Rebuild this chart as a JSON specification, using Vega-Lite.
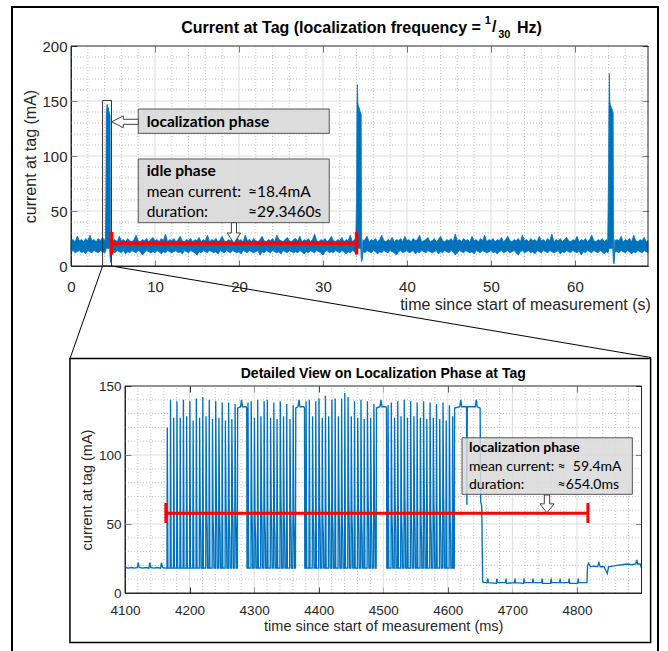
{
"$schema":"https://vega.github.io/schema/vega-lite/v6.json",
"width":646,"height":650,
"autosize":{"type":"none"},
"padding":{"left":12,"top":7,"right":10,"bottom":0},
"background":"white",
"config":{"view":{"stroke":"#000000","strokeWidth":2},"font":"Liberation Sans",
"axis":{"labelFont":"Liberation Sans","titleFont":"Liberation Sans","titleFontWeight":"normal","labelColor":"#262626","titleColor":"#262626","tickColor":"#262626","domainColor":"#262626","grid":false,"labelFlush":false,"labelOverlap":false}},
"datasets":{
"top":[
{"t":0,"lo":13,"hi":23},{"t":0.25,"lo":14,"hi":24},{"t":0.5,"lo":12,"hi":22},{"t":0.75,"lo":13,"hi":27},{"t":1,"lo":14,"hi":23},{"t":1.25,"lo":12,"hi":24},{"t":1.5,"lo":13,"hi":22},{"t":1.75,"lo":11,"hi":25},{"t":2,"lo":14,"hi":23},{"t":2.25,"lo":13,"hi":28},{"t":2.5,"lo":12,"hi":23},{"t":2.75,"lo":14,"hi":24},{"t":3,"lo":13,"hi":22},{"t":3.25,"lo":12,"hi":25},{"t":3.5,"lo":14,"hi":23},{"t":3.75,"lo":13,"hi":26},{"t":4,"lo":12,"hi":23},
{"t":4.05,"lo":12,"hi":24},{"t":4.1,"lo":13,"hi":23},{"t":4.15,"lo":14,"hi":60},{"t":4.2,"lo":16,"hi":140},{"t":4.25,"lo":16,"hi":143},{"t":4.3,"lo":16,"hi":147},{"t":4.35,"lo":16,"hi":145},{"t":4.4,"lo":16,"hi":142},{"t":4.45,"lo":16,"hi":144},{"t":4.5,"lo":16,"hi":141},{"t":4.55,"lo":16,"hi":140},{"t":4.6,"lo":16,"hi":138},{"t":4.65,"lo":8,"hi":137},{"t":4.7,"lo":5,"hi":12},{"t":4.75,"lo":3,"hi":11},{"t":4.8,"lo":6,"hi":12},{"t":4.85,"lo":12,"hi":24},{"t":4.9,"lo":13,"hi":23},
{"t":5,"lo":13,"hi":23},{"t":5.25,"lo":12,"hi":24},{"t":5.5,"lo":14,"hi":22},{"t":5.75,"lo":13,"hi":27},{"t":6,"lo":12,"hi":23},{"t":6.25,"lo":14,"hi":24},{"t":6.5,"lo":11,"hi":22},{"t":6.75,"lo":13,"hi":25},{"t":7,"lo":12,"hi":23},{"t":7.25,"lo":14,"hi":22},{"t":7.5,"lo":13,"hi":24},{"t":7.75,"lo":12,"hi":28},{"t":8,"lo":14,"hi":23},{"t":8.25,"lo":13,"hi":22},{"t":8.5,"lo":10,"hi":24},{"t":8.75,"lo":12,"hi":23},{"t":9,"lo":14,"hi":25},{"t":9.25,"lo":13,"hi":22},{"t":9.5,"lo":12,"hi":24},{"t":9.75,"lo":13,"hi":26},
{"t":10,"lo":12,"hi":23},{"t":10.25,"lo":14,"hi":24},{"t":10.5,"lo":13,"hi":22},{"t":10.75,"lo":11,"hi":25},{"t":11,"lo":13,"hi":23},{"t":11.25,"lo":12,"hi":29},{"t":11.5,"lo":14,"hi":22},{"t":11.75,"lo":13,"hi":24},{"t":12,"lo":12,"hi":23},{"t":12.25,"lo":13,"hi":25},{"t":12.5,"lo":14,"hi":22},{"t":12.75,"lo":12,"hi":24},{"t":13,"lo":13,"hi":27},{"t":13.25,"lo":11,"hi":23},{"t":13.5,"lo":14,"hi":22},{"t":13.75,"lo":13,"hi":24},{"t":14,"lo":12,"hi":23},{"t":14.25,"lo":14,"hi":25},{"t":14.5,"lo":13,"hi":22},{"t":14.75,"lo":12,"hi":24},
{"t":15,"lo":10,"hi":23},{"t":15.25,"lo":13,"hi":26},{"t":15.5,"lo":12,"hi":22},{"t":15.75,"lo":14,"hi":24},{"t":16,"lo":13,"hi":23},{"t":16.25,"lo":12,"hi":28},{"t":16.5,"lo":14,"hi":22},{"t":16.75,"lo":13,"hi":24},{"t":17,"lo":12,"hi":23},{"t":17.25,"lo":13,"hi":25},{"t":17.5,"lo":11,"hi":22},{"t":17.75,"lo":14,"hi":24},{"t":18,"lo":13,"hi":27},{"t":18.25,"lo":12,"hi":23},{"t":18.5,"lo":14,"hi":22},{"t":18.75,"lo":13,"hi":24},{"t":19,"lo":12,"hi":23},{"t":19.25,"lo":14,"hi":25},{"t":19.5,"lo":13,"hi":22},{"t":19.75,"lo":12,"hi":26},
{"t":20,"lo":13,"hi":23},{"t":20.25,"lo":11,"hi":24},{"t":20.5,"lo":14,"hi":22},{"t":20.75,"lo":13,"hi":28},{"t":21,"lo":12,"hi":23},{"t":21.25,"lo":14,"hi":24},{"t":21.5,"lo":13,"hi":22},{"t":21.75,"lo":12,"hi":25},{"t":22,"lo":13,"hi":23},{"t":22.25,"lo":14,"hi":22},{"t":22.5,"lo":10,"hi":24},{"t":22.75,"lo":13,"hi":27},{"t":23,"lo":12,"hi":23},{"t":23.25,"lo":14,"hi":22},{"t":23.5,"lo":13,"hi":24},{"t":23.75,"lo":12,"hi":23},{"t":24,"lo":14,"hi":25},{"t":24.25,"lo":13,"hi":22},{"t":24.5,"lo":12,"hi":28},{"t":24.75,"lo":13,"hi":24},
{"t":25,"lo":11,"hi":23},{"t":25.25,"lo":14,"hi":22},{"t":25.5,"lo":13,"hi":24},{"t":25.75,"lo":12,"hi":26},{"t":26,"lo":14,"hi":23},{"t":26.25,"lo":13,"hi":22},{"t":26.5,"lo":12,"hi":24},{"t":26.75,"lo":13,"hi":25},{"t":27,"lo":12,"hi":23},{"t":27.25,"lo":14,"hi":27},{"t":27.5,"lo":13,"hi":22},{"t":27.75,"lo":11,"hi":24},{"t":28,"lo":13,"hi":23},{"t":28.25,"lo":12,"hi":25},{"t":28.5,"lo":14,"hi":22},{"t":28.75,"lo":13,"hi":24},{"t":29,"lo":12,"hi":29},{"t":29.25,"lo":14,"hi":23},{"t":29.5,"lo":13,"hi":22},{"t":29.75,"lo":12,"hi":24},
{"t":30,"lo":10,"hi":23},{"t":30.25,"lo":13,"hi":25},{"t":30.5,"lo":14,"hi":22},{"t":30.75,"lo":12,"hi":24},{"t":31,"lo":13,"hi":27},{"t":31.25,"lo":12,"hi":23},{"t":31.5,"lo":14,"hi":22},{"t":31.75,"lo":13,"hi":24},{"t":32,"lo":12,"hi":23},{"t":32.25,"lo":14,"hi":26},{"t":32.5,"lo":13,"hi":22},{"t":32.75,"lo":11,"hi":24},{"t":33,"lo":13,"hi":23},{"t":33.25,"lo":12,"hi":28},{"t":33.5,"lo":14,"hi":22},{"t":33.75,"lo":13,"hi":24},
{"t":33.9,"lo":12,"hi":23},{"t":34,"lo":13,"hi":60},{"t":34.05,"lo":16,"hi":150},{"t":34.1,"lo":16,"hi":165},{"t":34.15,"lo":16,"hi":148},{"t":34.2,"lo":16,"hi":146},{"t":34.25,"lo":16,"hi":145},{"t":34.3,"lo":16,"hi":144},{"t":34.35,"lo":16,"hi":143},{"t":34.4,"lo":16,"hi":141},{"t":34.45,"lo":16,"hi":140},{"t":34.5,"lo":16,"hi":139},{"t":34.55,"lo":8,"hi":138},{"t":34.6,"lo":4,"hi":12},{"t":34.65,"lo":5,"hi":11},{"t":34.7,"lo":7,"hi":12},{"t":34.75,"lo":12,"hi":24},{"t":34.85,"lo":13,"hi":23},
{"t":35,"lo":12,"hi":24},{"t":35.25,"lo":14,"hi":27},{"t":35.5,"lo":13,"hi":22},{"t":35.75,"lo":12,"hi":24},{"t":36,"lo":14,"hi":23},{"t":36.25,"lo":13,"hi":25},{"t":36.5,"lo":11,"hi":22},{"t":36.75,"lo":13,"hi":24},{"t":37,"lo":12,"hi":28},{"t":37.25,"lo":14,"hi":23},{"t":37.5,"lo":13,"hi":22},{"t":37.75,"lo":12,"hi":24},{"t":38,"lo":14,"hi":23},{"t":38.25,"lo":13,"hi":26},{"t":38.5,"lo":12,"hi":22},{"t":38.75,"lo":10,"hi":24},{"t":39,"lo":13,"hi":23},{"t":39.25,"lo":14,"hi":25},{"t":39.5,"lo":12,"hi":22},{"t":39.75,"lo":13,"hi":27},
{"t":40,"lo":14,"hi":23},{"t":40.25,"lo":12,"hi":24},{"t":40.5,"lo":13,"hi":22},{"t":40.75,"lo":14,"hi":25},{"t":41,"lo":11,"hi":23},{"t":41.25,"lo":13,"hi":24},{"t":41.5,"lo":12,"hi":28},{"t":41.75,"lo":14,"hi":22},{"t":42,"lo":13,"hi":23},{"t":42.25,"lo":12,"hi":24},{"t":42.5,"lo":14,"hi":26},{"t":42.75,"lo":13,"hi":22},{"t":43,"lo":12,"hi":23},{"t":43.25,"lo":13,"hi":25},{"t":43.5,"lo":14,"hi":22},{"t":43.75,"lo":11,"hi":24},{"t":44,"lo":13,"hi":27},{"t":44.25,"lo":12,"hi":23},{"t":44.5,"lo":14,"hi":22},{"t":44.75,"lo":13,"hi":24},
{"t":45,"lo":12,"hi":23},{"t":45.25,"lo":14,"hi":25},{"t":45.5,"lo":13,"hi":22},{"t":45.75,"lo":10,"hi":29},{"t":46,"lo":12,"hi":23},{"t":46.25,"lo":14,"hi":24},{"t":46.5,"lo":13,"hi":22},{"t":46.75,"lo":12,"hi":25},{"t":47,"lo":14,"hi":23},{"t":47.25,"lo":13,"hi":24},{"t":47.5,"lo":12,"hi":22},{"t":47.75,"lo":13,"hi":27},{"t":48,"lo":11,"hi":23},{"t":48.25,"lo":14,"hi":24},{"t":48.5,"lo":13,"hi":22},{"t":48.75,"lo":12,"hi":25},{"t":49,"lo":14,"hi":23},{"t":49.25,"lo":13,"hi":28},{"t":49.5,"lo":12,"hi":22},{"t":49.75,"lo":13,"hi":24},
{"t":50,"lo":14,"hi":23},{"t":50.25,"lo":12,"hi":25},{"t":50.5,"lo":13,"hi":22},{"t":50.75,"lo":11,"hi":24},{"t":51,"lo":13,"hi":23},{"t":51.25,"lo":14,"hi":26},{"t":51.5,"lo":12,"hi":22},{"t":51.75,"lo":13,"hi":24},{"t":52,"lo":14,"hi":27},{"t":52.25,"lo":12,"hi":23},{"t":52.5,"lo":13,"hi":22},{"t":52.75,"lo":14,"hi":24},{"t":53,"lo":12,"hi":23},{"t":53.25,"lo":10,"hi":25},{"t":53.5,"lo":13,"hi":22},{"t":53.75,"lo":14,"hi":28},{"t":54,"lo":12,"hi":23},{"t":54.25,"lo":13,"hi":24},{"t":54.5,"lo":14,"hi":22},{"t":54.75,"lo":12,"hi":25},
{"t":55,"lo":13,"hi":23},{"t":55.25,"lo":11,"hi":24},{"t":55.5,"lo":14,"hi":22},{"t":55.75,"lo":13,"hi":27},{"t":56,"lo":12,"hi":23},{"t":56.25,"lo":14,"hi":24},{"t":56.5,"lo":13,"hi":22},{"t":56.75,"lo":12,"hi":25},{"t":57,"lo":14,"hi":23},{"t":57.25,"lo":13,"hi":29},{"t":57.5,"lo":12,"hi":22},{"t":57.75,"lo":13,"hi":24},{"t":58,"lo":14,"hi":23},{"t":58.25,"lo":11,"hi":25},{"t":58.5,"lo":13,"hi":22},{"t":58.75,"lo":12,"hi":24},{"t":59,"lo":14,"hi":26},{"t":59.25,"lo":13,"hi":23},{"t":59.5,"lo":12,"hi":22},{"t":59.75,"lo":14,"hi":24},
{"t":60,"lo":13,"hi":23},{"t":60.25,"lo":12,"hi":27},{"t":60.5,"lo":14,"hi":22},{"t":60.75,"lo":10,"hi":24},{"t":61,"lo":13,"hi":23},{"t":61.25,"lo":12,"hi":25},{"t":61.5,"lo":14,"hi":22},{"t":61.75,"lo":13,"hi":24},{"t":62,"lo":12,"hi":28},{"t":62.25,"lo":14,"hi":23},{"t":62.5,"lo":13,"hi":22},{"t":62.75,"lo":12,"hi":24},{"t":63,"lo":14,"hi":23},{"t":63.25,"lo":13,"hi":25},{"t":63.5,"lo":11,"hi":22},{"t":63.75,"lo":13,"hi":24},
{"t":63.9,"lo":12,"hi":23},{"t":64,"lo":13,"hi":80},{"t":64.05,"lo":16,"hi":146},{"t":64.1,"lo":16,"hi":175},{"t":64.15,"lo":16,"hi":150},{"t":64.2,"lo":16,"hi":147},{"t":64.25,"lo":16,"hi":146},{"t":64.3,"lo":16,"hi":145},{"t":64.35,"lo":16,"hi":144},{"t":64.4,"lo":16,"hi":143},{"t":64.45,"lo":16,"hi":142},{"t":64.5,"lo":16,"hi":141},{"t":64.55,"lo":8,"hi":139},{"t":64.6,"lo":3,"hi":12},{"t":64.65,"lo":2,"hi":11},{"t":64.7,"lo":5,"hi":12},{"t":64.75,"lo":12,"hi":24},{"t":64.85,"lo":13,"hi":23},
{"t":65,"lo":13,"hi":24},{"t":65.25,"lo":12,"hi":23},{"t":65.5,"lo":14,"hi":27},{"t":65.75,"lo":13,"hi":22},{"t":66,"lo":12,"hi":24},{"t":66.25,"lo":14,"hi":23},{"t":66.5,"lo":13,"hi":25},{"t":66.75,"lo":11,"hi":22},{"t":67,"lo":13,"hi":28},{"t":67.25,"lo":12,"hi":23},{"t":67.5,"lo":14,"hi":22},{"t":67.75,"lo":13,"hi":24},{"t":68,"lo":12,"hi":23},{"t":68.25,"lo":14,"hi":26},{"t":68.5,"lo":13,"hi":22},{"t":68.7,"lo":12,"hi":23}
],
"bot":[
{"t":4100,"i":18.5},{"t":4105,"i":18},{"t":4110,"i":18.5},{"t":4115,"i":18},{"t":4119,"i":18.5},{"t":4120.5,"i":22},{"t":4122,"i":18.5},{"t":4127,"i":18},{"t":4132,"i":18.5},{"t":4137,"i":18},{"t":4138.5,"i":22},{"t":4140,"i":18.5},{"t":4145,"i":18},{"t":4150,"i":18.5},{"t":4155,"i":18},{"t":4156.5,"i":22},{"t":4158,"i":18.5},{"t":4162,"i":18},{"t":4164.5,"i":18},
{"t":4165,"i":18},{"t":4165.5,"i":120},{"t":4166.5,"i":18},
{"t":4170,"i":18},{"t":4170.5,"i":140},{"t":4171.5,"i":18},
{"t":4175,"i":18},{"t":4175.5,"i":127},{"t":4176.5,"i":18},
{"t":4180,"i":18},{"t":4180.5,"i":139},{"t":4181.5,"i":18},
{"t":4185,"i":18},{"t":4185.5,"i":127},{"t":4186.5,"i":18},
{"t":4190,"i":18},{"t":4190.5,"i":140},{"t":4191.5,"i":18},
{"t":4195,"i":18},{"t":4195.5,"i":128},{"t":4196.5,"i":18},
{"t":4200,"i":18},{"t":4200.5,"i":139},{"t":4201.5,"i":18},
{"t":4205,"i":18},{"t":4205.5,"i":125},{"t":4206.5,"i":18},
{"t":4210,"i":18},{"t":4210.5,"i":141},{"t":4211.5,"i":18},
{"t":4215,"i":18},{"t":4215.5,"i":127},{"t":4216.5,"i":56},{"t":4217.3,"i":42},{"t":4217.8,"i":18},
{"t":4220,"i":18},{"t":4220.5,"i":142},{"t":4221.5,"i":18},
{"t":4225,"i":18},{"t":4225.5,"i":128},{"t":4226.5,"i":62},{"t":4227.3,"i":45},{"t":4227.8,"i":18},
{"t":4230,"i":18},{"t":4230.5,"i":140},{"t":4231.5,"i":18},
{"t":4235,"i":18},{"t":4235.5,"i":126},{"t":4236.5,"i":52},{"t":4237.3,"i":40},{"t":4237.8,"i":18},
{"t":4240,"i":18},{"t":4240.5,"i":139},{"t":4241.5,"i":70},{"t":4242.3,"i":48},{"t":4242.8,"i":18},
{"t":4245,"i":18},{"t":4245.5,"i":127},{"t":4246.5,"i":56},{"t":4247.3,"i":42},{"t":4247.8,"i":18},
{"t":4250,"i":18},{"t":4250.5,"i":138},{"t":4251.5,"i":18},
{"t":4255,"i":18},{"t":4255.5,"i":125},{"t":4256.5,"i":62},{"t":4257.3,"i":45},{"t":4257.8,"i":18},
{"t":4260,"i":18},{"t":4260.5,"i":138},{"t":4261.5,"i":52},{"t":4262.3,"i":40},{"t":4262.8,"i":18},
{"t":4265,"i":18},{"t":4265.5,"i":126},{"t":4266.5,"i":70},{"t":4267.3,"i":48},{"t":4267.8,"i":18},
{"t":4270,"i":18},{"t":4270.5,"i":137},{"t":4271.5,"i":56},{"t":4272.3,"i":42},{"t":4272.8,"i":18},
{"t":4274,"i":18},{"t":4274.5,"i":134},{"t":4279,"i":135},{"t":4280.5,"i":140},{"t":4282,"i":135},{"t":4287.5,"i":135},{"t":4288.5,"i":134},{"t":4289,"i":18},
{"t":4290,"i":18},{"t":4290.5,"i":138},{"t":4291.5,"i":18},
{"t":4295,"i":18},{"t":4295.5,"i":139},{"t":4296.5,"i":62},{"t":4297.3,"i":45},{"t":4297.8,"i":18},
{"t":4300,"i":18},{"t":4300.5,"i":127},{"t":4301.5,"i":52},{"t":4302.3,"i":40},{"t":4302.8,"i":18},
{"t":4305,"i":18},{"t":4305.5,"i":140},{"t":4306.5,"i":18},
{"t":4310,"i":18},{"t":4310.5,"i":128},{"t":4311.5,"i":70},{"t":4312.3,"i":48},{"t":4312.8,"i":18},
{"t":4315,"i":18},{"t":4315.5,"i":139},{"t":4316.5,"i":56},{"t":4317.3,"i":42},{"t":4317.8,"i":18},
{"t":4320,"i":18},{"t":4320.5,"i":140},{"t":4321.5,"i":18},
{"t":4325,"i":18},{"t":4325.5,"i":127},{"t":4326.5,"i":62},{"t":4327.3,"i":45},{"t":4327.8,"i":18},
{"t":4330,"i":18},{"t":4330.5,"i":138},{"t":4331.5,"i":52},{"t":4332.3,"i":40},{"t":4332.8,"i":18},
{"t":4335,"i":18},{"t":4335.5,"i":126},{"t":4336.5,"i":18},
{"t":4340,"i":18},{"t":4340.5,"i":139},{"t":4341.5,"i":70},{"t":4342.3,"i":48},{"t":4342.8,"i":18},
{"t":4345,"i":18},{"t":4345.5,"i":128},{"t":4346.5,"i":56},{"t":4347.3,"i":42},{"t":4347.8,"i":18},
{"t":4350,"i":18},{"t":4350.5,"i":137},{"t":4351.5,"i":18},
{"t":4355,"i":18},{"t":4355.5,"i":126},{"t":4356.5,"i":62},{"t":4357.3,"i":45},{"t":4357.8,"i":18},
{"t":4360,"i":18},{"t":4360.5,"i":136},{"t":4361.5,"i":52},{"t":4362.3,"i":40},{"t":4362.8,"i":18},
{"t":4364,"i":18},{"t":4364.5,"i":134},{"t":4368,"i":135},{"t":4369.5,"i":140},{"t":4371,"i":135},{"t":4377,"i":135},{"t":4378,"i":134},{"t":4378.5,"i":18},
{"t":4380,"i":18},{"t":4380.5,"i":139},{"t":4381.5,"i":18},
{"t":4385,"i":18},{"t":4385.5,"i":140},{"t":4386.5,"i":18},
{"t":4390,"i":18},{"t":4390.5,"i":128},{"t":4391.5,"i":56},{"t":4392.3,"i":42},{"t":4392.8,"i":18},
{"t":4395,"i":18},{"t":4395.5,"i":139},{"t":4396.5,"i":18},
{"t":4400,"i":18},{"t":4400.5,"i":141},{"t":4401.5,"i":62},{"t":4402.3,"i":45},{"t":4402.8,"i":18},
{"t":4405,"i":18},{"t":4405.5,"i":127},{"t":4406.5,"i":52},{"t":4407.3,"i":40},{"t":4407.8,"i":18},
{"t":4410,"i":18},{"t":4410.5,"i":143},{"t":4411.5,"i":18},
{"t":4415,"i":18},{"t":4415.5,"i":128},{"t":4416.5,"i":70},{"t":4417.3,"i":48},{"t":4417.8,"i":18},
{"t":4420,"i":18},{"t":4420.5,"i":140},{"t":4421.5,"i":56},{"t":4422.3,"i":42},{"t":4422.8,"i":18},
{"t":4425,"i":18},{"t":4425.5,"i":141},{"t":4426.5,"i":18},
{"t":4430,"i":18},{"t":4430.5,"i":128},{"t":4431.5,"i":62},{"t":4432.3,"i":45},{"t":4432.8,"i":18},
{"t":4435,"i":18},{"t":4435.5,"i":141},{"t":4436.5,"i":52},{"t":4437.3,"i":40},{"t":4437.8,"i":18},
{"t":4440,"i":18},{"t":4440.5,"i":145},{"t":4441.5,"i":18},
{"t":4445,"i":18},{"t":4445.5,"i":142},{"t":4446.5,"i":70},{"t":4447.3,"i":48},{"t":4447.8,"i":18},
{"t":4450,"i":18},{"t":4450.5,"i":128},{"t":4451.5,"i":56},{"t":4452.3,"i":42},{"t":4452.8,"i":18},
{"t":4455,"i":18},{"t":4455.5,"i":139},{"t":4456.5,"i":18},
{"t":4460,"i":18},{"t":4460.5,"i":127},{"t":4461.5,"i":62},{"t":4462.3,"i":45},{"t":4462.8,"i":18},
{"t":4465,"i":18},{"t":4465.5,"i":140},{"t":4466.5,"i":52},{"t":4467.3,"i":40},{"t":4467.8,"i":18},
{"t":4470,"i":18},{"t":4470.5,"i":126},{"t":4471.5,"i":18},
{"t":4475,"i":18},{"t":4475.5,"i":139},{"t":4476.5,"i":70},{"t":4477.3,"i":48},{"t":4477.8,"i":18},
{"t":4480,"i":18},{"t":4480.5,"i":127},{"t":4481.5,"i":56},{"t":4482.3,"i":42},{"t":4482.8,"i":18},
{"t":4485,"i":18},{"t":4485.5,"i":137},{"t":4486.5,"i":62},{"t":4487.3,"i":45},{"t":4487.8,"i":18},
{"t":4489,"i":18},{"t":4489.5,"i":134},{"t":4495,"i":135},{"t":4496.5,"i":140},{"t":4498,"i":135},{"t":4504,"i":135},{"t":4505,"i":134},{"t":4505.5,"i":18},
{"t":4507,"i":18},{"t":4507.5,"i":136},{"t":4508.5,"i":18},
{"t":4512,"i":18},{"t":4512.5,"i":138},{"t":4513.5,"i":56},{"t":4514.3,"i":42},{"t":4514.8,"i":18},
{"t":4517,"i":18},{"t":4517.5,"i":127},{"t":4518.5,"i":62},{"t":4519.3,"i":45},{"t":4519.8,"i":18},
{"t":4522,"i":18},{"t":4522.5,"i":139},{"t":4523.5,"i":18},
{"t":4527,"i":18},{"t":4527.5,"i":128},{"t":4528.5,"i":52},{"t":4529.3,"i":40},{"t":4529.8,"i":18},
{"t":4532,"i":18},{"t":4532.5,"i":140},{"t":4533.5,"i":70},{"t":4534.3,"i":48},{"t":4534.8,"i":18},
{"t":4537,"i":18},{"t":4537.5,"i":127},{"t":4538.5,"i":18},
{"t":4542,"i":18},{"t":4542.5,"i":139},{"t":4543.5,"i":56},{"t":4544.3,"i":42},{"t":4544.8,"i":18},
{"t":4547,"i":18},{"t":4547.5,"i":128},{"t":4548.5,"i":62},{"t":4549.3,"i":45},{"t":4549.8,"i":18},
{"t":4552,"i":18},{"t":4552.5,"i":138},{"t":4553.5,"i":18},
{"t":4557,"i":18},{"t":4557.5,"i":127},{"t":4558.5,"i":52},{"t":4559.3,"i":40},{"t":4559.8,"i":18},
{"t":4562,"i":18},{"t":4562.5,"i":139},{"t":4563.5,"i":70},{"t":4564.3,"i":48},{"t":4564.8,"i":18},
{"t":4567,"i":18},{"t":4567.5,"i":126},{"t":4568.5,"i":18},
{"t":4572,"i":18},{"t":4572.5,"i":138},{"t":4573.5,"i":56},{"t":4574.3,"i":42},{"t":4574.8,"i":18},
{"t":4577,"i":18},{"t":4577.5,"i":127},{"t":4578.5,"i":62},{"t":4579.3,"i":45},{"t":4579.8,"i":18},
{"t":4582,"i":18},{"t":4582.5,"i":137},{"t":4583.5,"i":18},
{"t":4587,"i":18},{"t":4587.5,"i":126},{"t":4588.5,"i":52},{"t":4589.3,"i":40},{"t":4589.8,"i":18},
{"t":4592,"i":18},{"t":4592.5,"i":138},{"t":4593.5,"i":70},{"t":4594.3,"i":48},{"t":4594.8,"i":18},
{"t":4597,"i":18},{"t":4597.5,"i":125},{"t":4598.5,"i":18},
{"t":4602,"i":18},{"t":4602.5,"i":136},{"t":4603.5,"i":56},{"t":4604.3,"i":42},{"t":4604.8,"i":18},
{"t":4607,"i":18},{"t":4607.5,"i":128},{"t":4608.5,"i":18},
{"t":4610,"i":18},{"t":4610.5,"i":134},{"t":4618.5,"i":135},{"t":4620,"i":140},{"t":4621.5,"i":135},{"t":4629,"i":135},{"t":4629.5,"i":64},{"t":4630.2,"i":135},{"t":4642.5,"i":135},{"t":4644,"i":140},{"t":4645.5,"i":135},{"t":4650,"i":134},{"t":4651,"i":66},{"t":4652.5,"i":63},{"t":4654,"i":8},{"t":4656,"i":7.5},
{"t":4661.2,"i":7.5},{"t":4662,"i":10.5},{"t":4662.8,"i":7.5},
{"t":4675.2,"i":7},{"t":4676,"i":10.5},{"t":4676.8,"i":7.5},
{"t":4689.2,"i":7.5},{"t":4690,"i":10.5},{"t":4690.8,"i":7},
{"t":4703.2,"i":7.5},{"t":4704,"i":10.5},{"t":4704.8,"i":7.5},
{"t":4717.2,"i":7},{"t":4718,"i":10.5},{"t":4718.8,"i":7.5},
{"t":4731.2,"i":7.5},{"t":4732,"i":10.5},{"t":4732.8,"i":7.5},
{"t":4745.2,"i":7.5},{"t":4746,"i":10.5},{"t":4746.8,"i":7},
{"t":4759.2,"i":7},{"t":4760,"i":10.5},{"t":4760.8,"i":7.5},
{"t":4773.2,"i":7.5},{"t":4774,"i":10.5},{"t":4774.8,"i":7.5},
{"t":4787.2,"i":7.5},{"t":4788,"i":10.5},{"t":4788.8,"i":7},
{"t":4801.2,"i":7},{"t":4802,"i":10.5},{"t":4802.8,"i":7.5},
{"t":4810,"i":7.5},{"t":4815.5,"i":7.5},{"t":4816.5,"i":20},{"t":4818,"i":21.5},{"t":4821,"i":19},{"t":4826,"i":19.5},{"t":4832,"i":19},{"t":4834,"i":22},{"t":4836,"i":19},{"t":4842,"i":19},{"t":4847,"i":14},{"t":4849,"i":19},{"t":4855,"i":19.5},{"t":4862,"i":20},{"t":4870,"i":20.5},{"t":4878,"i":21},{"t":4885,"i":20.5},{"t":4891,"i":21},{"t":4892.5,"i":24},{"t":4894,"i":21},{"t":4898,"i":21},{"t":4900,"i":18}
],
"txmaj":[{"v":10},{"v":20},{"v":30},{"v":40},{"v":50},{"v":60}],
"txmin":[{"v":2},{"v":4},{"v":6},{"v":8},{"v":12},{"v":14},{"v":16},{"v":18},{"v":22},{"v":24},{"v":26},{"v":28},{"v":32},{"v":34},{"v":36},{"v":38},{"v":42},{"v":44},{"v":46},{"v":48},{"v":52},{"v":54},{"v":56},{"v":58},{"v":62},{"v":64},{"v":66},{"v":68}],
"tymaj":[{"v":50},{"v":100},{"v":150}],
"tymin":[{"v":10},{"v":20},{"v":30},{"v":40},{"v":60},{"v":70},{"v":80},{"v":90},{"v":110},{"v":120},{"v":130},{"v":140},{"v":160},{"v":170},{"v":180},{"v":190}],
"bxmaj":[{"v":4200},{"v":4300},{"v":4400},{"v":4500},{"v":4600},{"v":4700},{"v":4800}],
"bxmin":[{"v":4120},{"v":4140},{"v":4160},{"v":4180},{"v":4220},{"v":4240},{"v":4260},{"v":4280},{"v":4320},{"v":4340},{"v":4360},{"v":4380},{"v":4420},{"v":4440},{"v":4460},{"v":4480},{"v":4520},{"v":4540},{"v":4560},{"v":4580},{"v":4620},{"v":4640},{"v":4660},{"v":4680},{"v":4720},{"v":4740},{"v":4760},{"v":4780},{"v":4820},{"v":4840},{"v":4860},{"v":4880}],
"bymaj":[{"v":50},{"v":100}],
"bymin":[{"v":10},{"v":20},{"v":30},{"v":40},{"v":60},{"v":70},{"v":80},{"v":90},{"v":110},{"v":120},{"v":130},{"v":140}],
"tred":[{"x1":4.84,"x2":34.0,"y1":20.6,"y2":20.6},{"x1":4.84,"x2":4.84,"y1":10.3,"y2":30.9},{"x1":34.0,"x2":34.0,"y1":10.3,"y2":30.9}],
"tbox":[{"x1":8.01,"x2":30.75,"y1":120.6,"y2":142.7},{"x1":8.01,"x2":30.75,"y1":39.4,"y2":97.3}],
"tzoom":[{"x1":3.76,"x2":4.82,"y1":0,"y2":150.5}],
"tconn":[{"x1":3.76,"y1":0,"x2":-0.12,"y2":-84.1},{"x1":4.82,"y1":0,"x2":69.05,"y2":-83.2}],
"tbold":[{"x":9.01,"y":131.2,"s":"localization phase"},{"x":9.01,"y":86.6,"s":"idle phase"}],
"tnorm":[{"x":9.01,"y":67.5,"s":"mean current:"},{"x":21.07,"y":67.5,"s":"≈18.4mA"},{"x":9.01,"y":49.4,"s":"duration:"},{"x":21.07,"y":49.4,"s":"≈29.3460s"}],
"ttitle":[{"x":48.81,"y":216.4,"s":"Current at Tag (localization frequency ="}],
"ttitle2":[{"x":49.64,"y":222.7,"s":"1","fs":11},{"x":50.4,"y":217.2,"s":"/","fs":16},{"x":51.6,"y":210,"s":"30","fs":11},{"x":54.58,"y":216.4,"s":"Hz)","fs":16}],
"tarrL":[{"x":6.43,"y":131.1}],
"tarrD":[{"x":19.4,"y":30}],
"bred":[{"x1":4163.3,"x2":4817,"y1":57.8,"y2":57.8},{"x1":4163.3,"x2":4163.3,"y1":50.7,"y2":65.2},{"x1":4817,"x2":4817,"y1":50.7,"y2":65.2}],
"bbox":[{"x1":4622,"x2":4885.8,"y1":71.5,"y2":112.5}],
"bframe":[{"x1":4014.7,"x2":4914.1,"y1":-35.9,"y2":169.9}],
"bbold":[{"x":4632.8,"y":104.9,"s":"localization phase"}],
"bnorm":[{"x":4632.8,"y":91.1,"s":"mean current:"},{"x":4770,"y":91.1,"s":"≈\u00a0\u00a059.4mA"},{"x":4632.8,"y":78,"s":"duration:"},{"x":4770,"y":78,"s":"≈654.0ms"}],
"btitle":[{"x":4500,"y":158.5,"s":"Detailed View on Localization Phase at Tag"}],
"barr":[{"x":4753.6,"y":64.6}]
},
"layer":[
{"layer":[
{"data":{"name":"txmin"},"mark":{"type":"rule","color":"#b8b8b8","strokeWidth":0.8,"strokeDash":[1,2]},"encoding":{"x":{"field":"v","type":"quantitative","scale":{"domain":[0,68.7],"range":[59,636],"nice":false,"zero":false},"axis":null},"y":{"datum":0,"type":"quantitative","scale":{"domain":[0,200],"range":[259,39],"nice":false,"zero":false},"axis":null},"y2":{"datum":200}}},
{"data":{"name":"tymin"},"mark":{"type":"rule","color":"#b8b8b8","strokeWidth":0.8,"strokeDash":[1,2]},"encoding":{"y":{"field":"v","type":"quantitative","scale":{"domain":[0,200],"range":[259,39],"nice":false,"zero":false},"axis":null},"x":{"datum":0,"type":"quantitative","scale":{"domain":[0,68.7],"range":[59,636],"nice":false,"zero":false},"axis":null},"x2":{"datum":68.7}}},
{"data":{"name":"txmaj"},"mark":{"type":"rule","color":"#dcdcdc","strokeWidth":1},"encoding":{"x":{"field":"v","type":"quantitative","scale":{"domain":[0,68.7],"range":[59,636],"nice":false,"zero":false},"axis":null},"y":{"datum":0,"type":"quantitative","scale":{"domain":[0,200],"range":[259,39],"nice":false,"zero":false},"axis":null},"y2":{"datum":200}}},
{"data":{"name":"tymaj"},"mark":{"type":"rule","color":"#dcdcdc","strokeWidth":1},"encoding":{"y":{"field":"v","type":"quantitative","scale":{"domain":[0,200],"range":[259,39],"nice":false,"zero":false},"axis":null},"x":{"datum":0,"type":"quantitative","scale":{"domain":[0,68.7],"range":[59,636],"nice":false,"zero":false},"axis":null},"x2":{"datum":68.7}}},
{"data":{"name":"top"},"mark":{"type":"area","color":"#0072BD","stroke":"#0072BD","strokeWidth":0.8,"opacity":1},
"encoding":{"x":{"field":"t","type":"quantitative","scale":{"domain":[0,68.7],"range":[59,636],"nice":false,"zero":false},
"axis":{"orient":"bottom","offset":-391,"values":[0,10,20,30,40,50,60],"format":"d","tickSize":-6,"labelFontSize":15,"labelPadding":19,"title":"time since start of measurement (s)","titleFontSize":16,"titleX":513,"titleY":38,"titleBaseline":"middle","titleAlign":"center"}},
"y":{"field":"lo","type":"quantitative","scale":{"domain":[0,200],"range":[259,39],"nice":false,"zero":false},
"axis":{"orient":"left","offset":-59,"values":[0,50,100,150,200],"format":"d","tickSize":-6,"labelFontSize":15,"labelPadding":10,"title":"current at tag (mA)","titleFontSize":16,"titleX":-41,"titleBaseline":"middle"}},
"y2":{"field":"hi"}}},
{"data":{"name":"tzoom"},"mark":{"type":"rect","filled":false,"stroke":"#333333","strokeWidth":1},"encoding":{"x":{"field":"x1","type":"quantitative","scale":{"domain":[0,68.7],"range":[59,636],"nice":false,"zero":false},"axis":null},"x2":{"field":"x2"},"y":{"field":"y1","type":"quantitative","scale":{"domain":[0,200],"range":[259,39],"nice":false,"zero":false},"axis":null},"y2":{"field":"y2"}}},
{"data":{"name":"tred"},"mark":{"type":"rule","color":"#FF0000","strokeWidth":3.5},"encoding":{"x":{"field":"x1","type":"quantitative","scale":{"domain":[0,68.7],"range":[59,636],"nice":false,"zero":false},"axis":null},"x2":{"field":"x2"},"y":{"field":"y1","type":"quantitative","scale":{"domain":[0,200],"range":[259,39],"nice":false,"zero":false},"axis":null},"y2":{"field":"y2"}}},
{"data":{"name":"tbox"},"mark":{"type":"rect","fill":"#d9d9d9","fillOpacity":0.92,"stroke":"#555555","strokeWidth":1},"encoding":{"x":{"field":"x1","type":"quantitative","scale":{"domain":[0,68.7],"range":[59,636],"nice":false,"zero":false},"axis":null},"x2":{"field":"x2"},"y":{"field":"y1","type":"quantitative","scale":{"domain":[0,200],"range":[259,39],"nice":false,"zero":false},"axis":null},"y2":{"field":"y2"}}},
{"data":{"name":"tbold"},"mark":{"type":"text","font":"Lato","fontWeight":"bold","fontSize":15.5,"align":"left","baseline":"middle","color":"#000000"},"encoding":{"x":{"field":"x","type":"quantitative","scale":{"domain":[0,68.7],"range":[59,636],"nice":false,"zero":false},"axis":null},"y":{"field":"y","type":"quantitative","scale":{"domain":[0,200],"range":[259,39],"nice":false,"zero":false},"axis":null},"text":{"field":"s"}}},
{"data":{"name":"tnorm"},"mark":{"type":"text","font":"Lato","fontSize":15.5,"align":"left","baseline":"middle","color":"#000000"},"encoding":{"x":{"field":"x","type":"quantitative","scale":{"domain":[0,68.7],"range":[59,636],"nice":false,"zero":false},"axis":null},"y":{"field":"y","type":"quantitative","scale":{"domain":[0,200],"range":[259,39],"nice":false,"zero":false},"axis":null},"text":{"field":"s"}}},
{"data":{"name":"ttitle"},"mark":{"type":"text","font":"Liberation Sans","fontWeight":"bold","fontSize":16,"align":"right","baseline":"middle","color":"#000000"},"encoding":{"x":{"field":"x","type":"quantitative","scale":{"domain":[0,68.7],"range":[59,636],"nice":false,"zero":false},"axis":null},"y":{"field":"y","type":"quantitative","scale":{"domain":[0,200],"range":[259,39],"nice":false,"zero":false},"axis":null},"text":{"field":"s"}}},
{"data":{"name":"ttitle2"},"mark":{"type":"text","font":"Liberation Sans","fontWeight":"bold","align":"center","baseline":"middle","color":"#000000"},"encoding":{"x":{"field":"x","type":"quantitative","scale":{"domain":[0,68.7],"range":[59,636],"nice":false,"zero":false},"axis":null},"y":{"field":"y","type":"quantitative","scale":{"domain":[0,200],"range":[259,39],"nice":false,"zero":false},"axis":null},"text":{"field":"s"},"size":{"field":"fs","type":"quantitative","scale":null,"legend":null}}},
{"data":{"name":"tarrL"},"mark":{"type":"point","shape":"M-1,0L-0.13,-0.44L-0.13,-0.19L1,-0.19L1,0.19L-0.13,0.19L-0.13,0.44Z","size":708,"filled":true,"fill":"#ffffff","stroke":"#404040","strokeWidth":1,"opacity":1},"encoding":{"x":{"field":"x","type":"quantitative","scale":{"domain":[0,68.7],"range":[59,636],"nice":false,"zero":false},"axis":null},"y":{"field":"y","type":"quantitative","scale":{"domain":[0,200],"range":[259,39],"nice":false,"zero":false},"axis":null}}},
{"data":{"name":"tarrD"},"mark":{"type":"point","shape":"M0,1L-0.65,0L-0.25,0L-0.25,-1L0.25,-1L0.25,0L0.65,0Z","size":424,"filled":true,"fill":"#ffffff","stroke":"#404040","strokeWidth":1,"opacity":1},"encoding":{"x":{"field":"x","type":"quantitative","scale":{"domain":[0,68.7],"range":[59,636],"nice":false,"zero":false},"axis":null},"y":{"field":"y","type":"quantitative","scale":{"domain":[0,200],"range":[259,39],"nice":false,"zero":false},"axis":null}}},
{"data":{"name":"tconn"},"mark":{"type":"rule","color":"#000000","strokeWidth":1},"encoding":{"x":{"field":"x1","type":"quantitative","scale":{"domain":[0,68.7],"range":[59,636],"nice":false,"zero":false},"axis":null},"x2":{"field":"x2"},"y":{"field":"y1","type":"quantitative","scale":{"domain":[0,200],"range":[259,39],"nice":false,"zero":false},"axis":null},"y2":{"field":"y2"}}},
{"data":{"values":[{"a":1}]},"mark":{"type":"rect","filled":false,"stroke":"#262626","strokeWidth":1},"encoding":{"x":{"datum":0,"type":"quantitative","scale":{"domain":[0,68.7],"range":[59,636],"nice":false,"zero":false},"axis":{"orient":"top","offset":-39,"values":[0,10,20,30,40,50,60],"labels":false,"tickSize":-6,"domain":false,"title":null}},"x2":{"datum":68.7},"y":{"datum":0,"type":"quantitative","scale":{"domain":[0,200],"range":[259,39],"nice":false,"zero":false},"axis":{"orient":"right","offset":-10,"values":[0,50,100,150,200],"labels":false,"tickSize":-6,"domain":false,"title":null}},"y2":{"datum":200}}}
],"resolve":{"axis":{"x":"independent","y":"independent"}}},
{"layer":[
{"data":{"name":"bxmin"},"mark":{"type":"rule","color":"#b8b8b8","strokeWidth":0.8,"strokeDash":[1,2]},"encoding":{"x":{"field":"v","type":"quantitative","scale":{"domain":[4100,4900],"range":[113,629.5],"nice":false,"zero":false},"axis":null},"y":{"datum":0,"type":"quantitative","scale":{"domain":[0,150],"range":[586,379],"nice":false,"zero":false},"axis":null},"y2":{"datum":150}}},
{"data":{"name":"bymin"},"mark":{"type":"rule","color":"#b8b8b8","strokeWidth":0.8,"strokeDash":[1,2]},"encoding":{"y":{"field":"v","type":"quantitative","scale":{"domain":[0,150],"range":[586,379],"nice":false,"zero":false},"axis":null},"x":{"datum":4100,"type":"quantitative","scale":{"domain":[4100,4900],"range":[113,629.5],"nice":false,"zero":false},"axis":null},"x2":{"datum":4900}}},
{"data":{"name":"bxmaj"},"mark":{"type":"rule","color":"#dcdcdc","strokeWidth":1},"encoding":{"x":{"field":"v","type":"quantitative","scale":{"domain":[4100,4900],"range":[113,629.5],"nice":false,"zero":false},"axis":null},"y":{"datum":0,"type":"quantitative","scale":{"domain":[0,150],"range":[586,379],"nice":false,"zero":false},"axis":null},"y2":{"datum":150}}},
{"data":{"name":"bymaj"},"mark":{"type":"rule","color":"#dcdcdc","strokeWidth":1},"encoding":{"y":{"field":"v","type":"quantitative","scale":{"domain":[0,150],"range":[586,379],"nice":false,"zero":false},"axis":null},"x":{"datum":4100,"type":"quantitative","scale":{"domain":[4100,4900],"range":[113,629.5],"nice":false,"zero":false},"axis":null},"x2":{"datum":4900}}},
{"data":{"name":"bot"},"mark":{"type":"line","color":"#0072BD","strokeWidth":1.35},
"encoding":{"x":{"field":"t","type":"quantitative","scale":{"domain":[4100,4900],"range":[113,629.5],"nice":false,"zero":false},
"axis":{"orient":"bottom","offset":-64,"values":[4100,4200,4300,4400,4500,4600,4700,4800],"format":"d","tickSize":-6,"labelFontSize":13.5,"labelPadding":16,"title":"time since start of measurement (ms)","titleFontSize":14.5,"titleY":33,"titleBaseline":"middle"}},
"y":{"field":"i","type":"quantitative","scale":{"domain":[0,150],"range":[586,379],"nice":false,"zero":false},
"axis":{"orient":"left","offset":-113,"values":[0,50,100,150],"format":"d","tickSize":-6,"labelFontSize":13.5,"labelPadding":10,"title":"current at tag (mA)","titleFontSize":14.5,"titleX":-38,"titleBaseline":"middle"}}}},
{"data":{"name":"bred"},"mark":{"type":"rule","color":"#FF0000","strokeWidth":3},"encoding":{"x":{"field":"x1","type":"quantitative","scale":{"domain":[4100,4900],"range":[113,629.5],"nice":false,"zero":false},"axis":null},"x2":{"field":"x2"},"y":{"field":"y1","type":"quantitative","scale":{"domain":[0,150],"range":[586,379],"nice":false,"zero":false},"axis":null},"y2":{"field":"y2"}}},
{"data":{"name":"bbox"},"mark":{"type":"rect","fill":"#d9d9d9","fillOpacity":0.85,"stroke":"#555555","strokeWidth":1},"encoding":{"x":{"field":"x1","type":"quantitative","scale":{"domain":[4100,4900],"range":[113,629.5],"nice":false,"zero":false},"axis":null},"x2":{"field":"x2"},"y":{"field":"y1","type":"quantitative","scale":{"domain":[0,150],"range":[586,379],"nice":false,"zero":false},"axis":null},"y2":{"field":"y2"}}},
{"data":{"name":"bbold"},"mark":{"type":"text","font":"Lato","fontWeight":"bold","fontSize":14,"align":"left","baseline":"middle","color":"#000000"},"encoding":{"x":{"field":"x","type":"quantitative","scale":{"domain":[4100,4900],"range":[113,629.5],"nice":false,"zero":false},"axis":null},"y":{"field":"y","type":"quantitative","scale":{"domain":[0,150],"range":[586,379],"nice":false,"zero":false},"axis":null},"text":{"field":"s"}}},
{"data":{"name":"bnorm"},"mark":{"type":"text","font":"Lato","fontSize":14,"align":"left","baseline":"middle","color":"#000000"},"encoding":{"x":{"field":"x","type":"quantitative","scale":{"domain":[4100,4900],"range":[113,629.5],"nice":false,"zero":false},"axis":null},"y":{"field":"y","type":"quantitative","scale":{"domain":[0,150],"range":[586,379],"nice":false,"zero":false},"axis":null},"text":{"field":"s"}}},
{"data":{"name":"btitle"},"mark":{"type":"text","font":"Liberation Sans","fontWeight":"bold","fontSize":14,"align":"center","baseline":"middle","color":"#000000"},"encoding":{"x":{"field":"x","type":"quantitative","scale":{"domain":[4100,4900],"range":[113,629.5],"nice":false,"zero":false},"axis":null},"y":{"field":"y","type":"quantitative","scale":{"domain":[0,150],"range":[586,379],"nice":false,"zero":false},"axis":null},"text":{"field":"s"}}},
{"data":{"name":"barr"},"mark":{"type":"point","shape":"M0,1L-0.81,0L-0.3,0L-0.3,-1L0.3,-1L0.3,0L0.81,0Z","size":313,"filled":true,"fill":"#ffffff","stroke":"#404040","strokeWidth":1,"opacity":1},"encoding":{"x":{"field":"x","type":"quantitative","scale":{"domain":[4100,4900],"range":[113,629.5],"nice":false,"zero":false},"axis":null},"y":{"field":"y","type":"quantitative","scale":{"domain":[0,150],"range":[586,379],"nice":false,"zero":false},"axis":null}}},
{"data":{"name":"bframe"},"mark":{"type":"rect","filled":false,"stroke":"#000000","strokeWidth":1.5},"encoding":{"x":{"field":"x1","type":"quantitative","scale":{"domain":[4100,4900],"range":[113,629.5],"nice":false,"zero":false},"axis":null},"x2":{"field":"x2"},"y":{"field":"y1","type":"quantitative","scale":{"domain":[0,150],"range":[586,379],"nice":false,"zero":false},"axis":null},"y2":{"field":"y2"}}},
{"data":{"values":[{"a":1}]},"mark":{"type":"rect","filled":false,"stroke":"#262626","strokeWidth":1},"encoding":{"x":{"datum":4100,"type":"quantitative","scale":{"domain":[4100,4900],"range":[113,629.5],"nice":false,"zero":false},"axis":{"orient":"top","offset":-379,"values":[4100,4200,4300,4400,4500,4600,4700,4800],"labels":false,"tickSize":-6,"domain":false,"title":null}},"x2":{"datum":4900},"y":{"datum":0,"type":"quantitative","scale":{"domain":[0,150],"range":[586,379],"nice":false,"zero":false},"axis":{"orient":"right","offset":-16.5,"values":[0,50,100,150],"labels":false,"tickSize":-6,"domain":false,"title":null}},"y2":{"datum":150}}}
],"resolve":{"axis":{"x":"independent","y":"independent"}}}
],
"resolve":{"scale":{"x":"independent","y":"independent"},"axis":{"x":"independent","y":"independent"}}
}
